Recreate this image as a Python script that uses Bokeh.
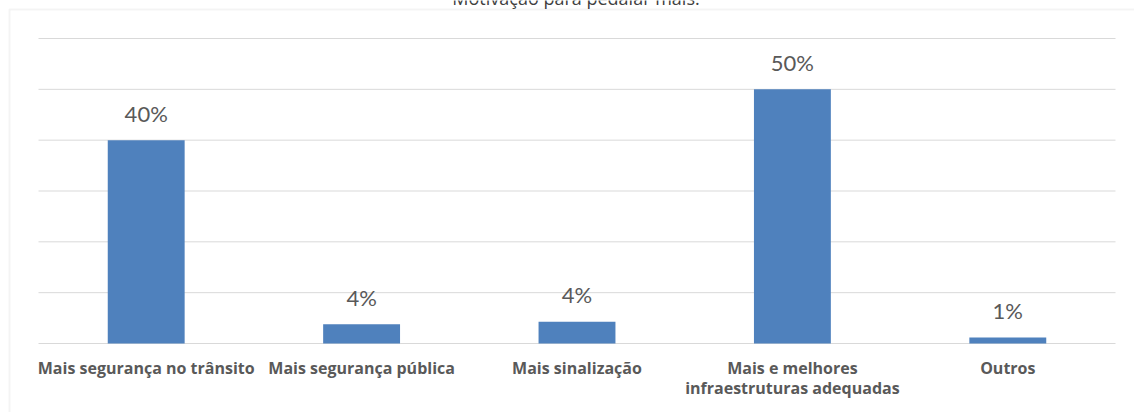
from bokeh.plotting import figure
from bokeh.models import Range1d, Label, BoxAnnotation
from bokeh.core.properties import value
from bokeh.embed import file_html
from bokeh.resources import INLINE

title_text = "Motivação para pedalar mais."
categories = [
    "Mais segurança no trânsito",
    "Mais segurança pública",
    "Mais sinalização",
    "Mais e melhores\ninfraestruturas adequadas",
    "Outros",
]
percent_values = [40.0, 3.8, 4.3, 50.0, 1.2]
grid_ticks = [0, 10, 20, 30, 40, 50, 60]

labels = [f"{v:.0f}%" for v in percent_values]
xpos = list(range(len(categories)))

W, H = 1134, 412
# plot area (category band) occupies x 38..1115 and y 38..343 of the canvas
cat_px = (1115 - 38) / len(categories)
y_px = (343 - 38) / 60.0
x_start = -0.5 - 38 / cat_px
x_end = len(categories) - 0.5 + (W - 1115) / cat_px
y_start = -(H - 343) / y_px
y_end = 60 + 38 / y_px

p = figure(
    x_range=Range1d(x_start, x_end),
    y_range=Range1d(y_start, y_end),
    width=W, height=H,
    output_backend="svg",
    toolbar_location=None,
    min_border_left=0, min_border_right=0,
    min_border_top=0, min_border_bottom=0,
)
p.axis.visible = False
p.grid.visible = False
p.outline_line_color = None
p.background_fill_color = "white"
p.border_fill_color = "white"

# chart-area border (top and left edges visible)
border = BoxAnnotation(left=9, right=3000, top=9, bottom=3000,
                       left_units="canvas", right_units="canvas",
                       top_units="canvas", bottom_units="canvas",
                       fill_color=None, fill_alpha=0,
                       line_color="#d9d9d9", line_width=2, level="underlay")
p.add_layout(border)

# horizontal gridlines across the category band
n = len(categories)
p.segment(x0=[-0.5] * len(grid_ticks), x1=[n - 0.5] * len(grid_ticks),
          y0=grid_ticks, y1=grid_ticks, line_color="#d9d9d9", line_width=1)

p.vbar(x=xpos, top=percent_values, width=0.357, fill_color="#4f81bd", line_color=None)

p.text(x=xpos, y=percent_values, text=labels, y_offset=-27,
       text_align="center", text_baseline="middle",
       text_font=value("Lato"), text_font_size="22px", text_color="#595959")

# category labels under the baseline
p.text(x=xpos, y=[0] * n, text=categories, y_offset=13,
       text_align="center", text_baseline="top", text_line_height=0.95,
       text_font=value("Open Sans"), text_font_style="bold",
       text_font_size="16px", text_color="#595959")

title = Label(x=575.5, y=H + 3, x_units="screen", y_units="screen", text=title_text,
              text_align="center", text_baseline="alphabetic",
              text_font="Open Sans", text_font_size="18px", text_color="#404040")
p.add_layout(title)

open("out.html", "w").write(file_html(p, INLINE))
